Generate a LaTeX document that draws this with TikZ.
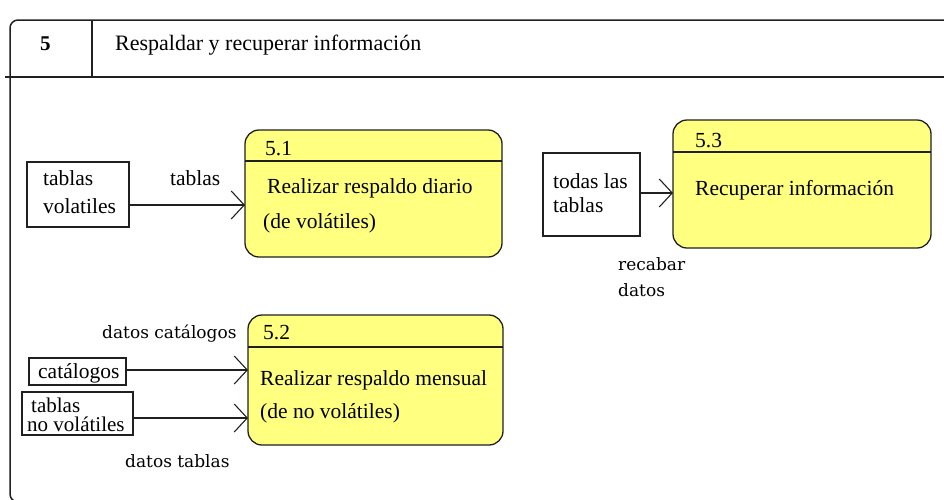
\documentclass[tikz,border=0pt]{standalone}
\usepackage{fontspec}
\setmainfont{Liberation Serif}
\newfontfamily\lblfont{DejaVu Serif}
\usetikzlibrary{arrows.meta}
\definecolor{procfill}{HTML}{FFFF80}
\definecolor{ink}{HTML}{202020}
\tikzset{
  proc/.style={draw=ink, line width=1.3pt, fill=procfill, rounded corners=14pt, anchor=north west, inner sep=0pt, outer sep=0pt},
  store/.style={draw=ink, line width=1.2pt, fill=white, anchor=north west, inner sep=0pt, outer sep=0pt},
  txt/.style={anchor=base west, inner sep=0pt, font=\fontsize{21.5}{24}\selectfont},
  lbl/.style={anchor=base west, inner sep=0pt, font=\lblfont\fontsize{17}{20}\selectfont},
  flow/.style={draw=ink, line width=1.2pt, -{Straight Barb[length=13pt,width=28pt,line width=1.1pt]}},
  frame/.style={draw=ink, line width=1.5pt}
}
\begin{document}
\begin{tikzpicture}[x=1pt,y=-1pt]
\useasboundingbox (0,0) rectangle (944,499);
% frame
\draw[frame, rounded corners=8pt] (944,20) -- (10,20) -- (10,502) -- (944,502);
\draw[frame] (5,77) -- (944,77);
\draw[frame] (92,20) -- (92,77);
\node[anchor=base west, inner sep=0pt, font=\bfseries\fontsize{21}{24}\selectfont] (num) at (40,50) {5};
\node[anchor=base west, inner sep=0pt, font=\fontsize{22}{26}\selectfont] (title) at (115,50) {Respaldar y recuperar información};

% process 5.1
\node[proc, minimum width=257pt, minimum height=127pt] (p51) at (245,130) {};
\draw[draw=ink, line width=1.2pt] (p51.west |- 0,161) -- (p51.east |- 0,161);
\node[txt] (p51n) at (265,155) {5.1};
\node[txt] (p51a) at (267,193) {Realizar respaldo diario};
\node[txt] (p51b) at (263,228) {(de volátiles)};

% process 5.2
\node[proc, minimum width=255pt, minimum height=130pt] (p52) at (248,315) {};
\draw[draw=ink, line width=1.2pt] (p52.west |- 0,347) -- (p52.east |- 0,347);
\node[txt] (p52n) at (263,339) {5.2};
\node[txt] (p52a) at (260,385) {Realizar respaldo mensual};
\node[txt] (p52b) at (260,418) {(de no volátiles)};

% process 5.3
\node[proc, minimum width=258pt, minimum height=128pt] (p53) at (673,120) {};
\draw[draw=ink, line width=1.2pt] (p53.west |- 0,152) -- (p53.east |- 0,152);
\node[txt] (p53n) at (695,147) {5.3};
\node[txt] (p53a) at (695,195) {Recuperar información};

% stores
\node[store, minimum width=102pt, minimum height=65pt] (s1) at (27,162) {};
\node[txt] (s1a) at (43,185) {tablas};
\node[txt] (s1b) at (43,213) {volatiles};

\node[store, minimum width=97pt, minimum height=27pt] (s2) at (29,358) {};
\node[txt] (s2a) at (38,378) {catálogos};

\node[store, minimum width=111pt, minimum height=43pt] (s3) at (22,392) {};
\node[anchor=west, inner sep=0pt, align=left, font=\fontsize{21}{19}\selectfont] (s3a) at (27,415) {\hspace*{4pt}tablas\\no volátiles};

\node[store, minimum width=97pt, minimum height=83pt] (s4) at (543,153) {};
\node[txt] (s4a) at (553,188) {todas las};
\node[txt] (s4b) at (553,212) {tablas};

% flows
\draw[flow] (s1.east |- 0,205) -- (p51.west |- 0,205);
\node[txt] (f1) at (170,185) {tablas};

\draw[flow] (s2.east |- 0,370) -- (p52.west |- 0,370);
\node[lbl] (f2) at (102,338) {datos catálogos};

\draw[flow] (s3.east |- 0,418) -- (p52.west |- 0,418);
\node[lbl] (f3) at (125,467) {datos tablas};

\draw[flow] (s4.east |- 0,193) -- (p53.west |- 0,193);
\node[lbl] (f4a) at (618,270) {recabar};
\node[lbl] (f4b) at (618,296) {datos};
\end{tikzpicture}
\end{document}
